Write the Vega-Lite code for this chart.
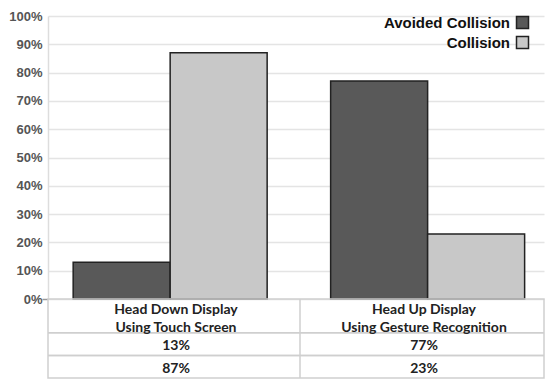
{
  "$schema": "https://vega.github.io/schema/vega-lite/v6.json",
  "background": "white",
  "padding": {"left": 8, "top": 10, "right": 8, "bottom": 8},
  "spacing": 0,
  "bounds": "flush",
  "datasets": {
    "bars": [
      {"group": "Head Down Display Using Touch Screen", "outcome": "Avoided Collision", "value": 0.13},
      {"group": "Head Down Display Using Touch Screen", "outcome": "Collision", "value": 0.87},
      {"group": "Head Up Display Using Gesture Recognition", "outcome": "Avoided Collision", "value": 0.77},
      {"group": "Head Up Display Using Gesture Recognition", "outcome": "Collision", "value": 0.23}
    ],
    "headers": [
      {"group": "Head Down Display Using Touch Screen", "label": "Head Down  Display\nUsing Touch Screen"},
      {"group": "Head Up Display Using Gesture Recognition", "label": "Head Up Display\nUsing Gesture Recognition"}
    ]
  },
  "resolve": {"scale": {"x": "independent", "y": "independent", "color": "independent"}},
  "vconcat": [
    {
      "width": 496,
      "height": 283,
      "data": {"name": "bars"},
      "mark": {"type": "bar", "stroke": "#222", "strokeWidth": 1.5},
      "encoding": {
        "x": {
          "field": "group", "type": "nominal", "sort": null, "axis": null,
          "scale": {"paddingInner": 0.2466, "paddingOuter": 0.0865, "align": 0.565}
        },
        "xOffset": {
          "field": "outcome", "type": "nominal", "sort": ["Avoided Collision", "Collision"],
          "scale": {"paddingInner": 0, "paddingOuter": 0}
        },
        "y": {
          "field": "value", "type": "quantitative",
          "scale": {"domain": [0, 1]},
          "axis": {
            "title": null,
            "values": [0, 0.1, 0.2, 0.3, 0.4, 0.5, 0.6, 0.7, 0.8, 0.9, 1],
            "format": ".0%",
            "labelFont": "Liberation Sans",
            "labelFontWeight": "bold",
            "labelFontSize": 13,
            "labelColor": "#555",
            "labelPadding": 0,
            "tickSize": 6,
            "tickWidth": 1.5,
            "tickColor": {"condition": {"test": "datum.value === 0", "value": "#999"}, "value": "transparent"},
            "domainColor": "#ddd",
            "domainWidth": 1.5,
            "gridColor": "#e4e4e4",
            "gridWidth": 1.5
          }
        },
        "color": {
          "field": "outcome", "type": "nominal",
          "scale": {"domain": ["Avoided Collision", "Collision"], "range": ["#595959", "#c8c8c8"]},
          "legend": {
            "title": null,
            "orient": "none",
            "legendX": 467,
            "legendY": -1,
            "padding": 0,
            "symbolType": "square",
            "symbolSize": 144,
            "symbolStrokeColor": "#222",
            "symbolStrokeWidth": 1.5,
            "labelFont": "Liberation Sans",
            "labelFontWeight": "bold",
            "labelFontSize": 15,
            "labelColor": "#111",
            "labelAlign": "right",
            "labelOffset": -20,
            "rowPadding": 1
          }
        }
      }
    },
    {
      "width": 496,
      "height": 79,
      "view": {"stroke": "#cfcfcf", "strokeWidth": 1.5},
      "layer": [
        {
          "data": {"name": "bars"},
          "mark": {"type": "rule", "color": "#cfcfcf", "strokeWidth": 1.5},
          "encoding": {
            "y": {
              "field": "outcome", "type": "nominal", "bandPosition": 0, "axis": null,
              "scale": {"domain": ["h1", "h2", "h3", "Avoided Collision", "a2", "Collision", "c2"], "paddingInner": 0, "paddingOuter": 0}
            }
          }
        },
        {
          "data": {"name": "headers"},
          "transform": [{"filter": "datum.group === 'Head Up Display Using Gesture Recognition'"}],
          "mark": {"type": "rule", "color": "#cfcfcf", "strokeWidth": 1.5},
          "encoding": {
            "x": {
              "field": "group", "type": "nominal", "bandPosition": 0, "axis": null, "sort": null,
              "scale": {"domain": ["Head Down Display Using Touch Screen", "Head Up Display Using Gesture Recognition"], "paddingInner": 0, "paddingOuter": 0, "range": [4, 500]}
            }
          }
        },
        {
          "data": {"name": "bars"},
          "mark": {"type": "text", "font": "Lato", "fontWeight": "bold", "fontSize": 14, "color": "#222", "baseline": "middle", "dy": 2},
          "encoding": {
            "x": {"field": "group", "type": "nominal", "axis": null, "sort": null},
            "y": {"field": "outcome", "type": "nominal", "axis": null, "bandPosition": 1},
            "text": {"field": "value", "type": "quantitative", "format": ".0%"}
          }
        },
        {
          "data": {"name": "headers"},
          "mark": {"type": "text", "font": "Lato", "fontWeight": "bold", "fontSize": 14, "color": "#222", "baseline": "middle", "lineBreak": "\n", "lineHeight": 18},
          "encoding": {
            "x": {"field": "group", "type": "nominal", "axis": null, "sort": null},
            "y": {"datum": "h2", "type": "nominal", "bandPosition": 0, "axis": null},
            "text": {"field": "label", "type": "nominal"}
          }
        }
      ]
    }
  ],
  "config": {"view": {"stroke": null}}
}
